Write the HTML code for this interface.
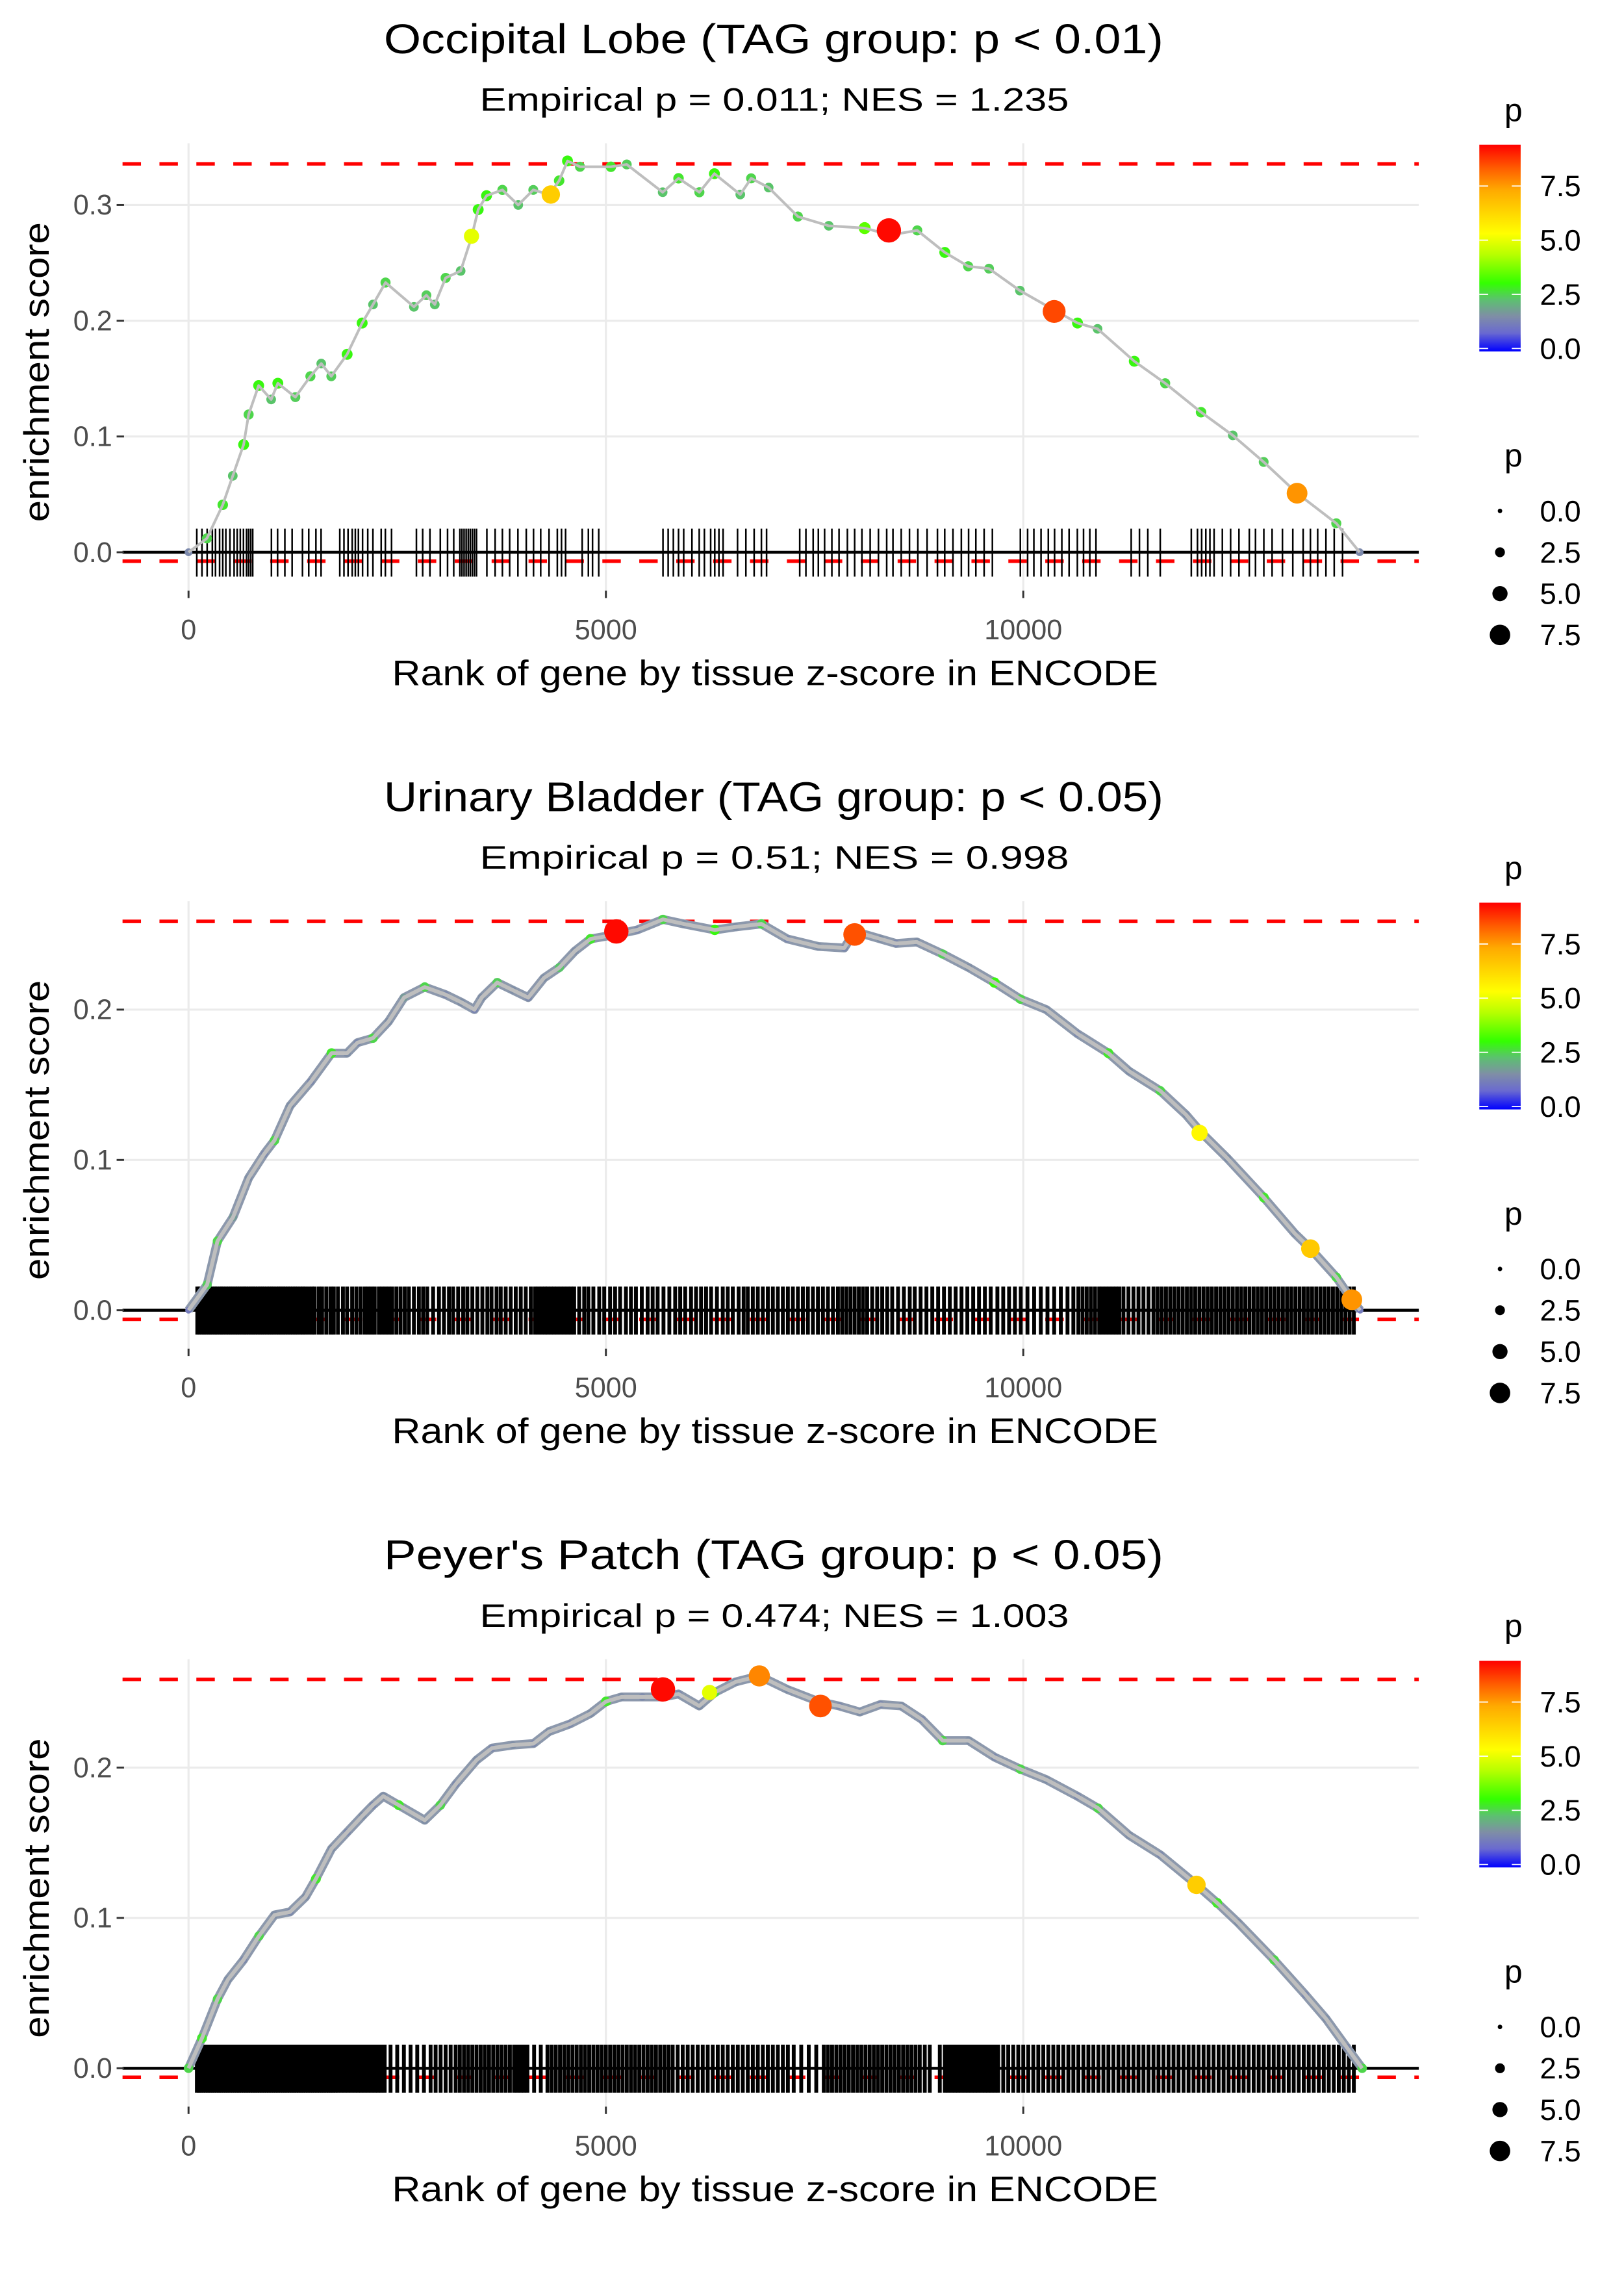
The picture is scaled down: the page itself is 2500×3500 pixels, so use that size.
<!DOCTYPE html>
<html><head><meta charset="utf-8"><title>Enrichment plots</title>
<style>html,body{margin:0;padding:0;background:#fff}svg{display:block}text{font-family:"Liberation Sans",Arial,sans-serif}</style>
</head><body>
<svg id="chart" xmlns="http://www.w3.org/2000/svg" width="2500" height="3500" viewBox="0 0 1100 1540">
<defs>
<linearGradient id="pgrad" x1="0" y1="1" x2="0" y2="0">
<stop offset="0" stop-color="#0000ff"/><stop offset="0.09" stop-color="#6a6ad0"/><stop offset="0.17" stop-color="#7f8ea6"/><stop offset="0.25" stop-color="#5cc070"/><stop offset="0.33" stop-color="#33ff00"/><stop offset="0.47" stop-color="#b8ff00"/><stop offset="0.57" stop-color="#ffff00"/><stop offset="0.78" stop-color="#ffaa00"/><stop offset="0.89" stop-color="#ff5a00"/><stop offset="1" stop-color="#ff0000"/>
</linearGradient>
</defs>
<rect x="0" y="0" width="1100" height="1540" fill="#fff"/>
</svg>
<script>
// ---------- DATA ----------
const panelTitles = ["Occipital Lobe (TAG group: p < 0.01)", "Urinary Bladder (TAG group: p < 0.05)", "Peyer's Patch (TAG group: p < 0.05)"];
const panelSubtitles = ["Empirical p = 0.011; NES = 1.235", "Empirical p = 0.51; NES = 0.998", "Empirical p = 0.474; NES = 1.003"];
const xTicks = [0, 5000, 10000];
const xTickLabels = ["0", "5000", "10000"];
const yTicks1 = [0, 0.1, 0.2, 0.3];
const yTicks23 = [0, 0.1, 0.2];
const maxES = [0.3355, 0.2587, 0.2587];
const minES = [-0.0077, -0.006, -0.006];
const legendColorTicks = [0, 2.5, 5, 7.5];
const legendColorLabels = ["0.0", "2.5", "5.0", "7.5"];
const legendSizeValues = [0, 2.5, 5, 7.5];
const legendSizeLabels = ["0.0", "2.5", "5.0", "7.5"];

const rank1 = [0,220,410,530,660,720,840,990,1070,1280,1460,1590,1710,1900,2080,2210,2360,2700,2850,2950,3080,3260,3390,3470,3570,3760,3950,4130,4320,4440,4540,4690,5060,5250,5680,5870,6120,6300,6610,6740,6950,7300,7670,8100,8410,8730,9060,9340,9590,9960,10400,10650,10890,11330,11700,12130,12510,12880,13280,13750,14030];
const es1 = [0,0.012,0.041,0.066,0.093,0.119,0.144,0.132,0.146,0.134,0.152,0.163,0.152,0.171,0.198,0.214,0.233,0.212,0.222,0.214,0.237,0.243,0.272,0.296,0.308,0.313,0.300,0.313,0.309,0.321,0.338,0.333,0.333,0.335,0.311,0.323,0.311,0.327,0.309,0.323,0.315,0.290,0.282,0.280,0.274,0.278,0.259,0.247,0.245,0.226,0.208,0.198,0.193,0.165,0.146,0.121,0.101,0.078,0.051,0.025,0];
const p1 = [1.5,2.6,2.8,2.4,3,2.6,3,2.4,3,2.5,2.6,2.4,2.5,3,3,2.4,2.6,2.4,2.5,2.4,2.6,2.4,2.8,3,3,2.6,2.4,2.5,2.6,2.8,3,2.6,2.8,2.5,2.4,2.8,2.6,3,2.4,2.6,2.4,2.6,2.4,3.5,2.6,2.6,3,2.6,2.5,2.4,2.6,3,2.4,3,2.6,2.8,2.4,2.5,2.4,2.6,1.5];
const bigRank1 = [3390, 4340, 8390, 10370, 13280];
const bigEs1 = [0.273, 0.309, 0.278, 0.208, 0.051];
const bigP1 = [5.0, 6.5, 9.3, 8.6, 7.6];
const rug1 = [99,161,223,285,323,372,410,447,496,546,583,620,658,695,720,745,769,993,1067,1154,1241,1365,1440,1526,1588,1812,1862,1911,1961,1998,2035,2085,2147,2209,2308,2358,2432,2730,2805,2892,3016,3103,3177,3251,3276,3301,3326,3351,3375,3400,3425,3450,3574,3673,3760,3847,3946,4046,4133,4219,4319,4418,4468,4517,4716,4790,4840,4914,5684,5746,5808,5870,5932,6031,6118,6180,6255,6304,6354,6404,6577,6677,6776,6863,6925,7322,7396,7483,7545,7620,7707,7793,7893,7980,8067,8166,8265,8364,8439,8538,8637,8737,8848,8972,9059,9158,9258,9345,9432,9531,9630,9965,10052,10127,10213,10300,10375,10462,10549,10648,10722,10797,10871,11293,11392,11492,11641,12013,12087,12137,12187,12236,12286,12385,12484,12584,12708,12782,12882,12981,13105,13229,13353,13440,13527,13626,13725,13825];

const rank2 = [0,223,347,534,720,906,1030,1216,1464,1713,1899,2023,2209,2395,2581,2830,3078,3264,3425,3512,3698,3884,4070,4257,4443,4629,4815,5125,5374,5684,5932,6304,6553,6863,7173,7545,7856,7980,8290,8476,8724,9034,9345,9655,9965,10276,10648,11020,11268,11641,11951,12137,12447,12882,13254,13440,13750,13936,14036];
const es2 = [0,0.017,0.046,0.062,0.088,0.104,0.113,0.136,0.152,0.171,0.171,0.178,0.181,0.192,0.208,0.215,0.210,0.205,0.200,0.208,0.218,0.213,0.208,0.221,0.228,0.239,0.247,0.250,0.253,0.260,0.257,0.253,0.255,0.257,0.247,0.242,0.241,0.252,0.247,0.244,0.245,0.237,0.228,0.218,0.207,0.200,0.184,0.171,0.159,0.146,0.130,0.118,0.101,0.075,0.051,0.041,0.022,0.007,0];
const p2 = [1.2,2.5,2.6,1.8,1.6,1.5,2.6,1.6,1.5,2.8,1.6,1.5,2.6,1.6,1.8,2.6,1.5,1.6,1.4,1.6,2.5,1.6,1.5,1.6,2.4,1.6,2.8,1.6,1.5,2.6,1.6,3,1.6,2.6,1.5,1.6,1.5,2.6,1.6,1.5,1.6,2.5,1.6,3,2.6,1.6,1.5,2.8,1.6,2.6,1.6,1.5,1.6,2.8,1.6,1.5,2.6,1.6,1.2];
const bigRank2 = [5125, 7980, 12112, 13440, 13936];
const bigEs2 = [0.252, 0.250, 0.118, 0.041, 0.007];
const bigP2 = [9.3, 8.5, 5.5, 6.6, 7.6];
const rug2 = [105,130,160,185,210,240,262,290,318,340,372,395,420,450,478,505,530,560,585,612,640,668,690,720,748,775,800,830,858,885,910,940,968,995,1020,1052,1080,1105,1135,1160,1190,1220,1250,1278,1305,1340,1370,1400,1440,1480,1510,1560,1600,1650,1700,1740,1790,1850,1900,1960,2010,2060,2110,2150,2190,2230,2280,2320,2360,2400,2440,2490,2540,2590,2640,2700,2760,2810,2860,2930,3000,3060,3120,3170,3230,3290,3340,3400,3460,3520,3580,3630,3690,3740,3800,3860,3920,3980,4040,4100,4150,4190,4230,4270,4300,4340,4380,4420,4460,4500,4540,4580,4620,4680,4740,4790,4850,4920,4980,5050,5110,5170,5240,5300,5360,5430,5500,5560,5620,5690,5760,5830,5890,5950,6020,6080,6140,6200,6260,6330,6400,6460,6520,6590,6650,6700,6760,6820,6880,6940,7000,7060,7120,7180,7240,7300,7360,7420,7480,7540,7600,7660,7720,7780,7830,7880,7930,7980,8030,8080,8130,8190,8250,8310,8370,8430,8500,8570,8640,8700,8770,8840,8910,8980,9050,9120,9190,9260,9330,9400,9470,9540,9610,9690,9760,9830,9900,9970,10050,10130,10210,10290,10370,10450,10530,10600,10660,10710,10760,10810,10860,10910,10950,10990,11030,11070,11110,11150,11200,11260,11320,11380,11440,11500,11560,11610,11660,11710,11760,11810,11860,11910,11960,12010,12060,12110,12160,12210,12260,12310,12360,12410,12460,12510,12560,12610,12660,12710,12760,12810,12860,12910,12960,13010,13060,13110,13160,13210,13260,13310,13360,13410,13460,13510,13560,13610,13660,13710,13760,13810,13860,13910,13960];

const rank3 = [0,161,347,472,658,844,1030,1216,1402,1526,1713,1899,2085,2209,2333,2519,2830,3016,3202,3450,3636,3884,4133,4319,4567,4815,5001,5187,5436,5684,5870,6118,6304,6553,6838,7173,7545,7793,8042,8290,8539,8786,9034,9345,9655,9965,10276,10648,10896,11268,11641,12013,12323,12571,13006,13378,13626,13874,14060];
const es3 = [0,0.020,0.046,0.059,0.072,0.088,0.102,0.104,0.114,0.126,0.146,0.157,0.168,0.175,0.181,0.175,0.165,0.175,0.189,0.205,0.213,0.215,0.216,0.224,0.229,0.236,0.244,0.247,0.247,0.247,0.249,0.241,0.250,0.257,0.261,0.252,0.244,0.241,0.237,0.242,0.241,0.232,0.218,0.218,0.207,0.199,0.192,0.181,0.173,0.155,0.142,0.125,0.110,0.097,0.072,0.049,0.033,0.014,0];
const p3 = [2.6,2.8,2.6,1.6,1.5,2.6,1.6,1.5,1.6,2.8,1.6,1.5,1.6,1.5,1.6,2.8,1.6,2.6,1.5,1.6,1.5,1.6,1.5,1.6,1.5,1.6,2.8,1.6,1.5,1.6,1.5,1.6,2.6,1.6,1.5,1.6,2.6,1.5,1.6,1.5,1.6,1.5,2.6,1.6,1.5,2.6,1.6,1.5,2.6,1.6,1.5,1.6,2.8,1.6,2.6,1.5,1.6,1.5,2.6];
const bigRank3 = [5684, 6242, 6838, 7570, 12075];
const bigEs3 = [0.252, 0.250, 0.261, 0.241, 0.122];
const bigP3 = [9.3, 5.0, 7.8, 8.5, 6.5];
const rug3 = [100,125,150,178,205,232,258,285,310,338,365,390,418,445,470,498,525,552,580,605,632,660,688,715,742,770,798,825,852,880,908,935,962,990,1018,1045,1072,1100,1128,1155,1182,1210,1238,1265,1292,1320,1348,1375,1402,1430,1458,1485,1512,1540,1568,1595,1622,1650,1678,1705,1732,1760,1790,1830,1870,1910,1950,1990,2030,2070,2110,2150,2190,2230,2270,2310,2350,2420,2500,2580,2660,2740,2820,2900,2960,3020,3080,3140,3200,3250,3300,3350,3400,3450,3500,3550,3600,3650,3700,3750,3800,3850,3900,3940,3980,4020,4060,4140,4220,4300,4350,4400,4450,4500,4550,4600,4650,4700,4750,4800,4850,4900,4950,5000,5050,5100,5150,5200,5250,5300,5350,5400,5450,5500,5550,5600,5650,5700,5750,5800,5860,5920,5980,6040,6100,6160,6220,6280,6340,6400,6460,6520,6580,6640,6700,6760,6820,6880,6940,7000,7060,7120,7180,7250,7340,7430,7520,7610,7660,7710,7760,7810,7860,7910,7960,8010,8060,8110,8160,8210,8260,8310,8360,8410,8460,8510,8560,8610,8660,8710,8760,8820,8880,9000,9060,9100,9140,9180,9220,9260,9300,9340,9380,9420,9460,9500,9540,9580,9620,9660,9700,9760,9820,9880,9940,10000,10060,10120,10180,10240,10300,10360,10420,10480,10540,10600,10660,10720,10780,10840,10900,10960,11020,11080,11140,11200,11260,11320,11380,11440,11500,11560,11620,11680,11740,11800,11860,11920,11980,12040,12100,12160,12220,12280,12340,12400,12460,12520,12580,12640,12700,12760,12820,12880,12940,13000,13060,13120,13180,13240,13300,13360,13420,13480,13540,13600,13660,13720,13780,13840,13900,13960];

// ---------- RENDER ----------
const NS = "http://www.w3.org/2000/svg";
const svg = document.getElementById("chart");
const PANEL_H = 1540 / 3;
const PLOT_L = 83, PLOT_R = 961, PLOT_T = 97, PLOT_B = 402, Y0 = 374;
function xScale(r) { return 127.7 + r * (282.7 / 5000); }
function makeY(k) { return v => Y0 - v * k; }
const colorStops = [[0,[0,0,255]],[0.85,[106,106,208]],[1.6,[127,142,166]],[2.35,[92,192,112]],[3.1,[51,255,0]],[4.4,[184,255,0]],[5.35,[255,255,0]],[7.3,[255,170,0]],[8.4,[255,90,0]],[9.4,[255,0,0]]];
function pColor(p) {
  if (p <= colorStops[0][0]) return "rgb(0,0,255)";
  for (let i = 1; i < colorStops.length; i++) {
    if (p <= colorStops[i][0]) {
      const a = colorStops[i-1], b = colorStops[i], t = (p - a[0]) / (b[0] - a[0]);
      const c = a[1].map((v, j) => Math.round(v + (b[1][j] - v) * t));
      return "rgb(" + c.join(",") + ")";
    }
  }
  return "rgb(255,0,0)";
}
function pRadius(p) { return 1.8 + 0.85 * p; }
function el(tag, attrs, parent) {
  const e = document.createElementNS(NS, tag);
  for (const k in attrs) e.setAttribute(k, attrs[k]);
  parent.appendChild(e);
  return e;
}

const panels = [
  {rank: rank1, es: es1, p: p1, bigRank: bigRank1, bigEs: bigEs1, bigP: bigP1, rug: rug1, yTicks: yTicks1, k: 784, thick: false, rugW: 1.1},
  {rank: rank2, es: es2, p: p2, bigRank: bigRank2, bigEs: bigEs2, bigP: bigP2, rug: rug2, yTicks: yTicks23, k: 1018, thick: true, rugW: 2.6},
  {rank: rank3, es: es3, p: p3, bigRank: bigRank3, bigEs: bigEs3, bigP: bigP3, rug: rug3, yTicks: yTicks23, k: 1018, thick: true, rugW: 2.6}
];

panels.forEach((P, i) => {
  const yS = makeY(P.k);
  const g = el("g", {transform: "translate(0," + (i * PANEL_H).toFixed(2) + ")"}, svg);
  
  

  const t = el("text", {x: 524, y: 36, "text-anchor": "middle", "font-size": 28, fill: "#000", textLength: 528, lengthAdjust: "spacingAndGlyphs"}, g);
  t.textContent = panelTitles[i];
  
  
  const st = el("text", {x: 524.5, y: 75, "text-anchor": "middle", "font-size": 22, fill: "#000", textLength: 399, lengthAdjust: "spacingAndGlyphs"}, g);
  st.textContent = panelSubtitles[i];
  
  

  xTicks.forEach((v) => {
    const gl = el("line", {x1: xScale(v), x2: xScale(v), y1: PLOT_T, y2: PLOT_B, stroke: "#ebebeb", "stroke-width": 1.4}, g);
    
    
  });
  P.yTicks.forEach((v) => {
    const gl = el("line", {x1: PLOT_L, x2: PLOT_R, y1: yS(v), y2: yS(v), stroke: "#ebebeb", "stroke-width": 1.4}, g);
    
    
  });

  [maxES[i], minES[i]].forEach((v, j) => {
    const dl = el("line", {x1: PLOT_L, x2: PLOT_R, y1: yS(v), y2: yS(v), stroke: "#ff0000", "stroke-width": 2.4, "stroke-dasharray": "12.5 12.5"}, g);
    
    
  });

  const rg = el("g", {}, g);
  
  
  P.rug.forEach((r) => {
    const rl = el("line", {x1: xScale(r), x2: xScale(r), y1: Y0 - 16, y2: Y0 + 16.5, stroke: "#000", "stroke-width": P.rugW}, rg);
    
    
  });

  const zl = el("line", {x1: PLOT_L, x2: PLOT_R, y1: yS(0), y2: yS(0), stroke: "#000", "stroke-width": 2}, g);
  
  

  const pts = P.rank.map((r, j) => xScale(r).toFixed(2) + "," + yS(P.es[j]).toFixed(2)).join(" ");
  if (P.thick) {
    const under = el("polyline", {points: pts, fill: "none", stroke: "#8c98ac", "stroke-width": 6, "stroke-linejoin": "round"}, g);
    
    
  }
  P.rank.forEach((r, j) => {
    const c = el("circle", {cx: xScale(r), cy: yS(P.es[j]), r: P.thick ? pRadius(P.p[j]) * 0.8 : pRadius(P.p[j]) * 0.85, fill: pColor(P.p[j])}, g);
    
    
  });
  const line = el("polyline", {points: pts, fill: "none", stroke: "#bebebe", "stroke-width": P.thick ? 2.6 : 1.8, "stroke-linejoin": "round"}, g);
  
  
  P.bigRank.forEach((r, j) => {
    const c = el("circle", {cx: xScale(r), cy: yS(P.bigEs[j]), r: pRadius(P.bigP[j]) * 0.85, fill: pColor(P.bigP[j])}, g);
    
    
  });

  xTicks.forEach((v, j) => {
    const tk = el("line", {x1: xScale(v), x2: xScale(v), y1: 400, y2: 405, stroke: "#333", "stroke-width": 1.3}, g);
    
    
    const tl = el("text", {x: xScale(v), y: 433, "text-anchor": "middle", "font-size": 19, fill: "#4d4d4d"}, g);
    tl.textContent = xTickLabels[j];
    
    
  });
  P.yTicks.forEach((v) => {
    const tk = el("line", {x1: 79, x2: 84, y1: yS(v), y2: yS(v), stroke: "#333", "stroke-width": 1.3}, g);
    
    
    const tl = el("text", {x: 76, y: yS(v) + 6.5, "text-anchor": "end", "font-size": 19, fill: "#4d4d4d"}, g);
    tl.textContent = v.toFixed(1);
    
    
  });
  const xt = el("text", {x: 525, y: 464, "text-anchor": "middle", "font-size": 24, fill: "#000", textLength: 519, lengthAdjust: "spacingAndGlyphs"}, g);
  xt.textContent = "Rank of gene by tissue z-score in ENCODE";
  
  
  const yt = el("text", {x: 0, y: 0, transform: "translate(33,252) rotate(-90)", "text-anchor": "middle", "font-size": 24, fill: "#000", textLength: 203, lengthAdjust: "spacingAndGlyphs"}, g);
  yt.textContent = "enrichment score";
  
  

  const lg = el("g", {}, g);
  
  
  const lt = el("text", {x: 1019, y: 82, "font-size": 22, fill: "#000"}, lg);
  lt.textContent = "p";
  
  
  const cb = el("rect", {x: 1002, y: 98, width: 28, height: 140, fill: "url(#pgrad)"}, lg);
  
  
  legendColorTicks.forEach((v, j) => {
    const yy = 236 - v * 14.67;
    const a = el("line", {x1: 1002, x2: 1008, y1: yy, y2: yy, stroke: "#fff", "stroke-width": 0.8}, lg);
    
    
    const b = el("line", {x1: 1024, x2: 1030, y1: yy, y2: yy, stroke: "#fff", "stroke-width": 0.8}, lg);
    
    
    const tl = el("text", {x: 1043, y: yy + 7, "font-size": 20, fill: "#000"}, lg);
    tl.textContent = legendColorLabels[j];
    
    
  });

  const sg = el("g", {}, g);
  
  
  const stl = el("text", {x: 1019, y: 316, "font-size": 22, fill: "#000"}, sg);
  stl.textContent = "p";
  
  
  legendSizeValues.forEach((v, j) => {
    const yy = 346 + j * 28;
    const c = el("circle", {cx: 1016, cy: yy, r: pRadius(v) * 0.85, fill: "#000"}, sg);
    
    
    const tl = el("text", {x: 1043, y: yy + 7, "font-size": 20, fill: "#000"}, sg);
    tl.textContent = legendSizeLabels[j];
    
    
  });
});
</script>
</body></html>
